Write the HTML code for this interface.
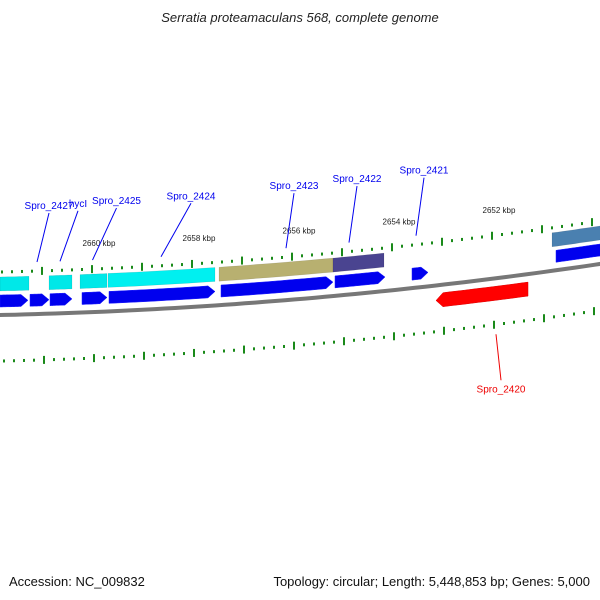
<!DOCTYPE html>
<html><head><meta charset="utf-8"><style>
body{margin:0;background:#fff}
svg{display:block;font-family:"Liberation Sans","DejaVu Sans",sans-serif}
</style></head><body>
<svg id="map" width="600" height="600" viewBox="0 0 600 600">
<rect width="600" height="600" fill="#fff"/>
<text x="300" y="22" text-anchor="middle" font-size="13" font-style="italic" fill="#222">Serratia proteamaculans 568, complete genome</text>
<text x="9" y="586" font-size="13" fill="#111">Accession: NC_009832</text>
<text x="590" y="586" text-anchor="end" font-size="13" fill="#111">Topology: circular; Length: 5,448,853 bp; Genes: 5,000</text>
<g id="layer"></g>
</svg>
<script>
// data
const fwdStarts=[2661840,2661240,2660840,2660200,2659660,2657420,2655140,2653600,2650720];
const fwdEnds  =[2661280,2660860,2660400,2659700,2657540,2655180,2654140,2653280,2649440];
const cogStarts=[2661840,2660860,2660240,2659680,2657460,2655180,2650800];
const cogEnds  =[2661260,2660400,2659700,2657540,2655180,2654160,2649440];
const cogColors=["#00e8e8","#00e8e8","#00e8e8","#00f0f0","#b8b070","#4a4490","#4a80b0"];
const revStarts=[2653120];
const revEnds  =[2651280];
const labelNames=["Spro_2427","hycI","Spro_2425","Spro_2424","Spro_2423","Spro_2422","Spro_2421"];
const labelBp=[2661100,2660640,2659990,2658620,2656120,2654860,2653520];
const tickLabels=["2660 kbp","2658 kbp","2656 kbp","2654 kbp","2652 kbp"];
const tickLabelBp=[2660000,2658000,2656000,2654000,2652000];

const NS="http://www.w3.org/2000/svg";
const g=document.getElementById('layer');
function X(bp){return 92+(2660000-bp)*0.05;}
function B(x){return 315-0.0217*x-1.056e-4*x*x;}
function mk(t,a){const e=document.createElementNS(NS,t);for(const k in a)e.setAttribute(k,a[k]);g.appendChild(e);return e;}
function band(x1,x2,off,h,fill,head,dir){
  const pts=[],bot=[];const n=12;
  let a=x1,b=x2;
  if(head&&dir>0)b=x2-7; if(head&&dir<0)a=x1+7;
  for(let i=0;i<=n;i++){const x=a+(b-a)*i/n;pts.push([x,B(x)+off-h/2]);bot.push([x,B(x)+off+h/2]);}
  let p=pts.slice();
  if(head&&dir>0)p.push([x2,B(x2)+off]);
  p=p.concat(bot.reverse());
  if(head&&dir<0)p.push([x1,B(x1)+off]);
  return p.map(q=>q[0].toFixed(1)+','+q[1].toFixed(1)).join(' ');
}
// backbone
let bb=[];for(let x=-5;x<=605;x+=10)bb.push(x+','+B(x).toFixed(1));
let e=mk('polyline',{points:bb.join(' '),fill:'none',stroke:'#777',"stroke-width":4});

// ticks
for(let bp=2662000;bp>=2648600;bp-=200){
  const x=X(bp);if(x<-2||x>602)continue;const major=bp%1000===0;
  const yi=B(x)-43, yo=B(x)+46;const L=major?8:3;
  let t=mk('line',{x1:x,y1:yi-L/2,x2:x,y2:yi+L/2,stroke:'#1a8a1a',"stroke-width":2});
  
  let t2=mk('line',{x1:x+2,y1:yo-L/2,x2:x+2,y2:yo+L/2,stroke:'#1a8a1a',"stroke-width":2});
  
}
tickLabelBp.forEach((bp,i)=>{const x=X(bp);
  let t=mk('text',{x:x+7,y:B(x)-66,"text-anchor":"middle","font-size":8,fill:'#222'});t.textContent=tickLabels[i];
  });
// COG band
cogStarts.forEach((s,i)=>{const x1=X(s),x2=X(cogEnds[i]);
  let p=mk('polygon',{points:band(x1,x2,-31,14,cogColors[i],false,0),fill:cogColors[i],stroke:'rgba(0,0,0,0.15)',"stroke-width":0.5});
  });
// forward genes
fwdStarts.forEach((s,i)=>{const x1=X(s),x2=X(fwdEnds[i]);
  let p=mk('polygon',{points:band(x1,x2,-14,12,'#0000ee',x2<600,1),fill:'#0000ee',stroke:'#2020ff',"stroke-width":0.5});
  });
// reverse genes
revStarts.forEach((s,i)=>{const x1=X(s),x2=X(revEnds[i]);
  let p=mk('polygon',{points:band(x1,x2,15,14,'#ff0000',true,-1),fill:'#ff0000',stroke:'#dd0000',"stroke-width":0.5});
  });
// labels
labelBp.forEach((bp,i)=>{const x=X(bp);const ly=B(x)-105-i*1.5;
  const lx=x+12+ (i<4?(i*6):-4);
  let l=mk('line',{x1:x,y1:B(x)-52,x2:lx,y2:ly+4,stroke:'#0000ee',"stroke-width":1});
  
  let t=mk('text',{x:lx,y:ly,"text-anchor":"middle","font-size":10,fill:'#0000ee'});t.textContent=labelNames[i];
  });
{const x=X(2651920);
  let l=mk('line',{x1:x,y1:B(x)+56,x2:x+5,y2:B(x)+102,stroke:'#ee0000',"stroke-width":1});
  
  let t=mk('text',{x:x+5,y:B(x)+114,"text-anchor":"middle","font-size":10,fill:'#ee0000'});t.textContent='Spro_2420';
  }
</script>
</body></html>
